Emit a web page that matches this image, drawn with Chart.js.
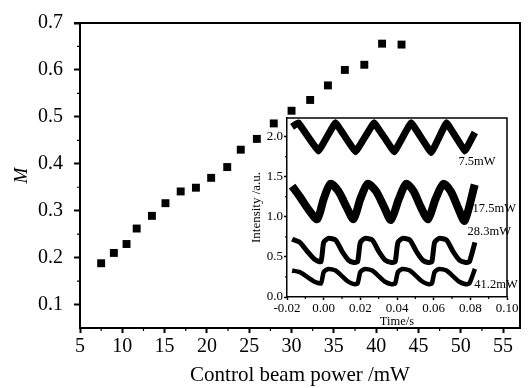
<!DOCTYPE html>
<html>
<head>
<meta charset="utf-8">
<script src="https://cdn.jsdelivr.net/npm/chart.js@4.4.1/dist/chart.umd.min.js"></script>
<style>
  html, body { margin: 0; padding: 0; background: #fff; }
  #wrap { position: relative; width: 532px; height: 388px; }
  #mainChart { position: absolute; left: 0; top: 0; }
  #insetChart { position: absolute; left: 245px; top: 108px; }
</style>
</head>
<body>
<div id="wrap">
  <canvas id="mainChart" width="532" height="388"></canvas>
  <canvas id="insetChart" width="280" height="222"></canvas>
</div>
<script>
// ===== DATA =====
const power = [7.5, 9.0, 10.5, 11.7, 13.5, 15.1, 16.9, 18.7, 20.5, 22.4, 24.0, 25.9, 27.9, 30.0, 32.2, 34.3, 36.3, 38.6, 40.7, 43.0];
const mValues = [0.188, 0.210, 0.229, 0.262, 0.289, 0.316, 0.341, 0.349, 0.370, 0.393, 0.430, 0.453, 0.486, 0.513, 0.536, 0.567, 0.600, 0.611, 0.656, 0.654];
const xTicks = [5, 10, 15, 20, 25, 30, 35, 40, 45, 50, 55];
const yTicks = [0.1, 0.2, 0.3, 0.4, 0.5, 0.6, 0.7];

// inset traces (time in s, intensity in a.u.)
const t75 = [-0.0172, -0.0138, -0.0028, 0.0064, 0.0174, 0.0275, 0.0385, 0.0477, 0.0587, 0.0670, 0.0770, 0.0825];
const v75 = [2.12, 2.17, 1.82, 2.17, 1.81, 2.17, 1.81, 2.17, 1.80, 2.17, 1.82, 2.05];

const t175 = [-0.0172, -0.0130, -0.0080, -0.0035, 0.0000, 0.0037, 0.0080, 0.0125, 0.0163, 0.0200, 0.0240, 0.0285, 0.0330, 0.0367,
  0.0410, 0.0450, 0.0490, 0.0530, 0.0570, 0.0610, 0.0653, 0.0695, 0.0735, 0.0769, 0.0824];
const v175 = [1.38, 1.25, 1.08, 0.97, 1.22, 1.41, 1.32, 1.12, 0.97, 1.22, 1.41, 1.32, 1.12, 0.96,
  1.22, 1.41, 1.32, 1.12, 0.97, 1.22, 1.41, 1.31, 1.10, 0.95, 1.40];

const t283 = [-0.0172, -0.0130, -0.0090, -0.0050, -0.0015, 0.0000, 0.0025, 0.0065, 0.0100, 0.0135, 0.0165,
  0.0185, 0.0200, 0.0225, 0.0265, 0.0300, 0.0335, 0.0370, 0.0390, 0.0405, 0.0430, 0.0470, 0.0505, 0.0540, 0.0570,
  0.0590, 0.0605, 0.0630, 0.0670, 0.0705, 0.0740, 0.0775, 0.0795, 0.0825];
const v283 = [0.72, 0.68, 0.57, 0.47, 0.44, 0.68, 0.73, 0.71, 0.57, 0.46, 0.43,
  0.44, 0.68, 0.73, 0.71, 0.57, 0.46, 0.43, 0.44, 0.68, 0.73, 0.71, 0.57, 0.46, 0.43,
  0.44, 0.68, 0.73, 0.71, 0.57, 0.46, 0.43, 0.44, 0.68];

const t412 = t283;
const v412 = [0.33, 0.31, 0.25, 0.19, 0.17, 0.31, 0.35, 0.33, 0.26, 0.19, 0.16,
  0.17, 0.31, 0.35, 0.33, 0.26, 0.19, 0.16, 0.17, 0.31, 0.35, 0.33, 0.26, 0.19, 0.16,
  0.17, 0.31, 0.35, 0.33, 0.26, 0.19, 0.16, 0.17, 0.35];

const insetXTicks = [-0.02, 0.0, 0.02, 0.04, 0.06, 0.08, 0.10];
const insetYTicks = [0.0, 0.5, 1.0, 1.5, 2.0];
const traceNames = ["7.5mW", "17.5mW", "28.3mW", "41.2mW"];

const serif = '"Liberation Serif", "DejaVu Serif", serif';
const pts = (xs, ys) => xs.map((x, i) => ({ x, y: ys[i] }));

// frame on top/right + minor ticks between majors
function framePlugin(id, xMajor, yMajor, minorLen, lw, extendTop) {
  return {
    id,
    afterDraw(chart) {
      const { ctx, chartArea: a, scales } = chart;
      ctx.save();
      ctx.strokeStyle = "#000";
      ctx.lineWidth = lw;
      ctx.beginPath();
      ctx.moveTo(a.left - extendTop, a.top);
      ctx.lineTo(a.right, a.top);
      ctx.lineTo(a.right, a.bottom);
      ctx.stroke();
      ctx.lineWidth = 1.2;
      ctx.beginPath();
      for (let i = 0; i < xMajor.length - 1; i++) {
        const px = scales.x.getPixelForValue((xMajor[i] + xMajor[i + 1]) / 2);
        ctx.moveTo(px, a.bottom);
        ctx.lineTo(px, a.bottom + minorLen);
      }
      for (let i = 0; i < yMajor.length - 1; i++) {
        const py = scales.y.getPixelForValue((yMajor[i] + yMajor[i + 1]) / 2);
        ctx.moveTo(a.left, py);
        ctx.lineTo(a.left - minorLen, py);
      }
      ctx.stroke();
      ctx.restore();
    },
  };
}

// ===== MAIN CHART =====
new Chart(document.getElementById("mainChart"), {
  type: "scatter",
  data: {
    datasets: [
      {
        data: pts(power, mValues),
        pointStyle: "rect",
        pointRadius: 5.6,
        backgroundColor: "#000",
        borderColor: "#000",
        borderWidth: 0,
      },
    ],
  },
  options: {
    responsive: false,
    animation: false,
    devicePixelRatio: 1,
    layout: { padding: { top: 14, right: 12, left: 0, bottom: 0 } },
    plugins: { legend: { display: false }, tooltip: { enabled: false } },
    scales: {
      x: {
        type: "linear",
        min: 5,
        max: 57,
        afterBuildTicks: (s) => { s.ticks = xTicks.map((v) => ({ value: v })); },
        afterFit: (s) => { s.height = 60; },
        grid: { drawOnChartArea: false, tickLength: 5, tickWidth: 2, tickColor: "#000" },
        border: { color: "#000", width: 2 },
        ticks: { color: "#000", font: { family: serif, size: 20 }, padding: 2, maxRotation: 0, callback: (v) => String(v) },
        title: { display: true, text: "Control beam power /mW", color: "#000", font: { family: serif, size: 21 }, padding: { top: 0, bottom: 0 } },
      },
      y: {
        min: 0.05,
        max: 0.7,
        afterBuildTicks: (s) => { s.ticks = yTicks.map((v) => ({ value: v })); },
        afterFit: (s) => { s.width = 80; },
        grid: { drawOnChartArea: false, tickLength: 6, tickWidth: 2, tickColor: "#000" },
        border: { color: "#000", width: 2 },
        ticks: { color: "#000", font: { family: serif, size: 20 }, padding: 11, callback: (v) => v.toFixed(1) },
        title: { display: true, text: "M", color: "#000", font: { family: serif, size: 19, style: "italic" }, padding: { top: 11, bottom: 0 } },
      },
    },
  },
  plugins: [framePlugin("mainFrame", xTicks, yTicks, 3, 2, 6)],
});

// ===== INSET CHART =====
const traceLabels = {
  id: "traceLabels",
  afterDraw(chart) {
    const { ctx, scales } = chart;
    const anchors = [[0.0735, 1.69], [0.0812, 1.10], [0.0785, 0.81], [0.0822, 0.15]];
    ctx.save();
    ctx.fillStyle = "#000";
    ctx.font = "12.5px " + serif;
    ctx.textAlign = "left";
    ctx.textBaseline = "middle";
    traceNames.forEach((name, i) => {
      ctx.fillText(name, scales.x.getPixelForValue(anchors[i][0]), scales.y.getPixelForValue(anchors[i][1]));
    });
    ctx.restore();
  },
};

const traceStyle = (w, tension) => ({
  borderColor: "#000",
  borderWidth: w,
  pointRadius: 0,
  tension,
  showLine: true,
  fill: false,
});

new Chart(document.getElementById("insetChart"), {
  type: "scatter",
  data: {
    datasets: [
      { data: pts(t75, v75), ...traceStyle(7, 0.05) },
      { data: pts(t175, v175), ...traceStyle(8, 0.25) },
      { data: pts(t283, v283), ...traceStyle(5, 0.2) },
      { data: pts(t412, v412), ...traceStyle(4.5, 0.2) },
    ],
  },
  options: {
    responsive: false,
    animation: false,
    devicePixelRatio: 1,
    layout: { padding: { top: 10, right: 18, left: 0, bottom: 0 } },
    plugins: { legend: { display: false }, tooltip: { enabled: false } },
    scales: {
      x: {
        type: "linear",
        min: -0.02,
        max: 0.1,
        afterBuildTicks: (s) => { s.ticks = insetXTicks.map((v) => ({ value: v })); },
        afterFit: (s) => { s.height = 33; },
        grid: { drawOnChartArea: false, tickLength: 3, tickWidth: 1.5, tickColor: "#000" },
        border: { color: "#000", width: 1.5 },
        ticks: { color: "#000", font: { family: serif, size: 13 }, padding: 1, maxRotation: 0, callback: (v) => v.toFixed(2) },
        title: { display: true, text: "Time/s", color: "#000", font: { family: serif, size: 12.5 }, padding: { top: 0, bottom: 1 } },
      },
      y: {
        min: 0,
        max: 2.23,
        afterBuildTicks: (s) => { s.ticks = insetYTicks.map((v) => ({ value: v })); },
        afterFit: (s) => { s.width = 42; },
        grid: { drawOnChartArea: false, tickLength: 3, tickWidth: 1.5, tickColor: "#000" },
        border: { color: "#000", width: 1.5 },
        ticks: { color: "#000", font: { family: serif, size: 13 }, padding: 1, callback: (v) => v.toFixed(1) },
        title: { display: true, text: "Intensity /a.u.", color: "#000", font: { family: serif, size: 13 }, padding: { top: 4, bottom: 0 } },
      },
    },
  },
  plugins: [framePlugin("insetFrame", insetXTicks, insetYTicks, 2, 1.5, 0), traceLabels],
});
</script>
</body>
</html>
